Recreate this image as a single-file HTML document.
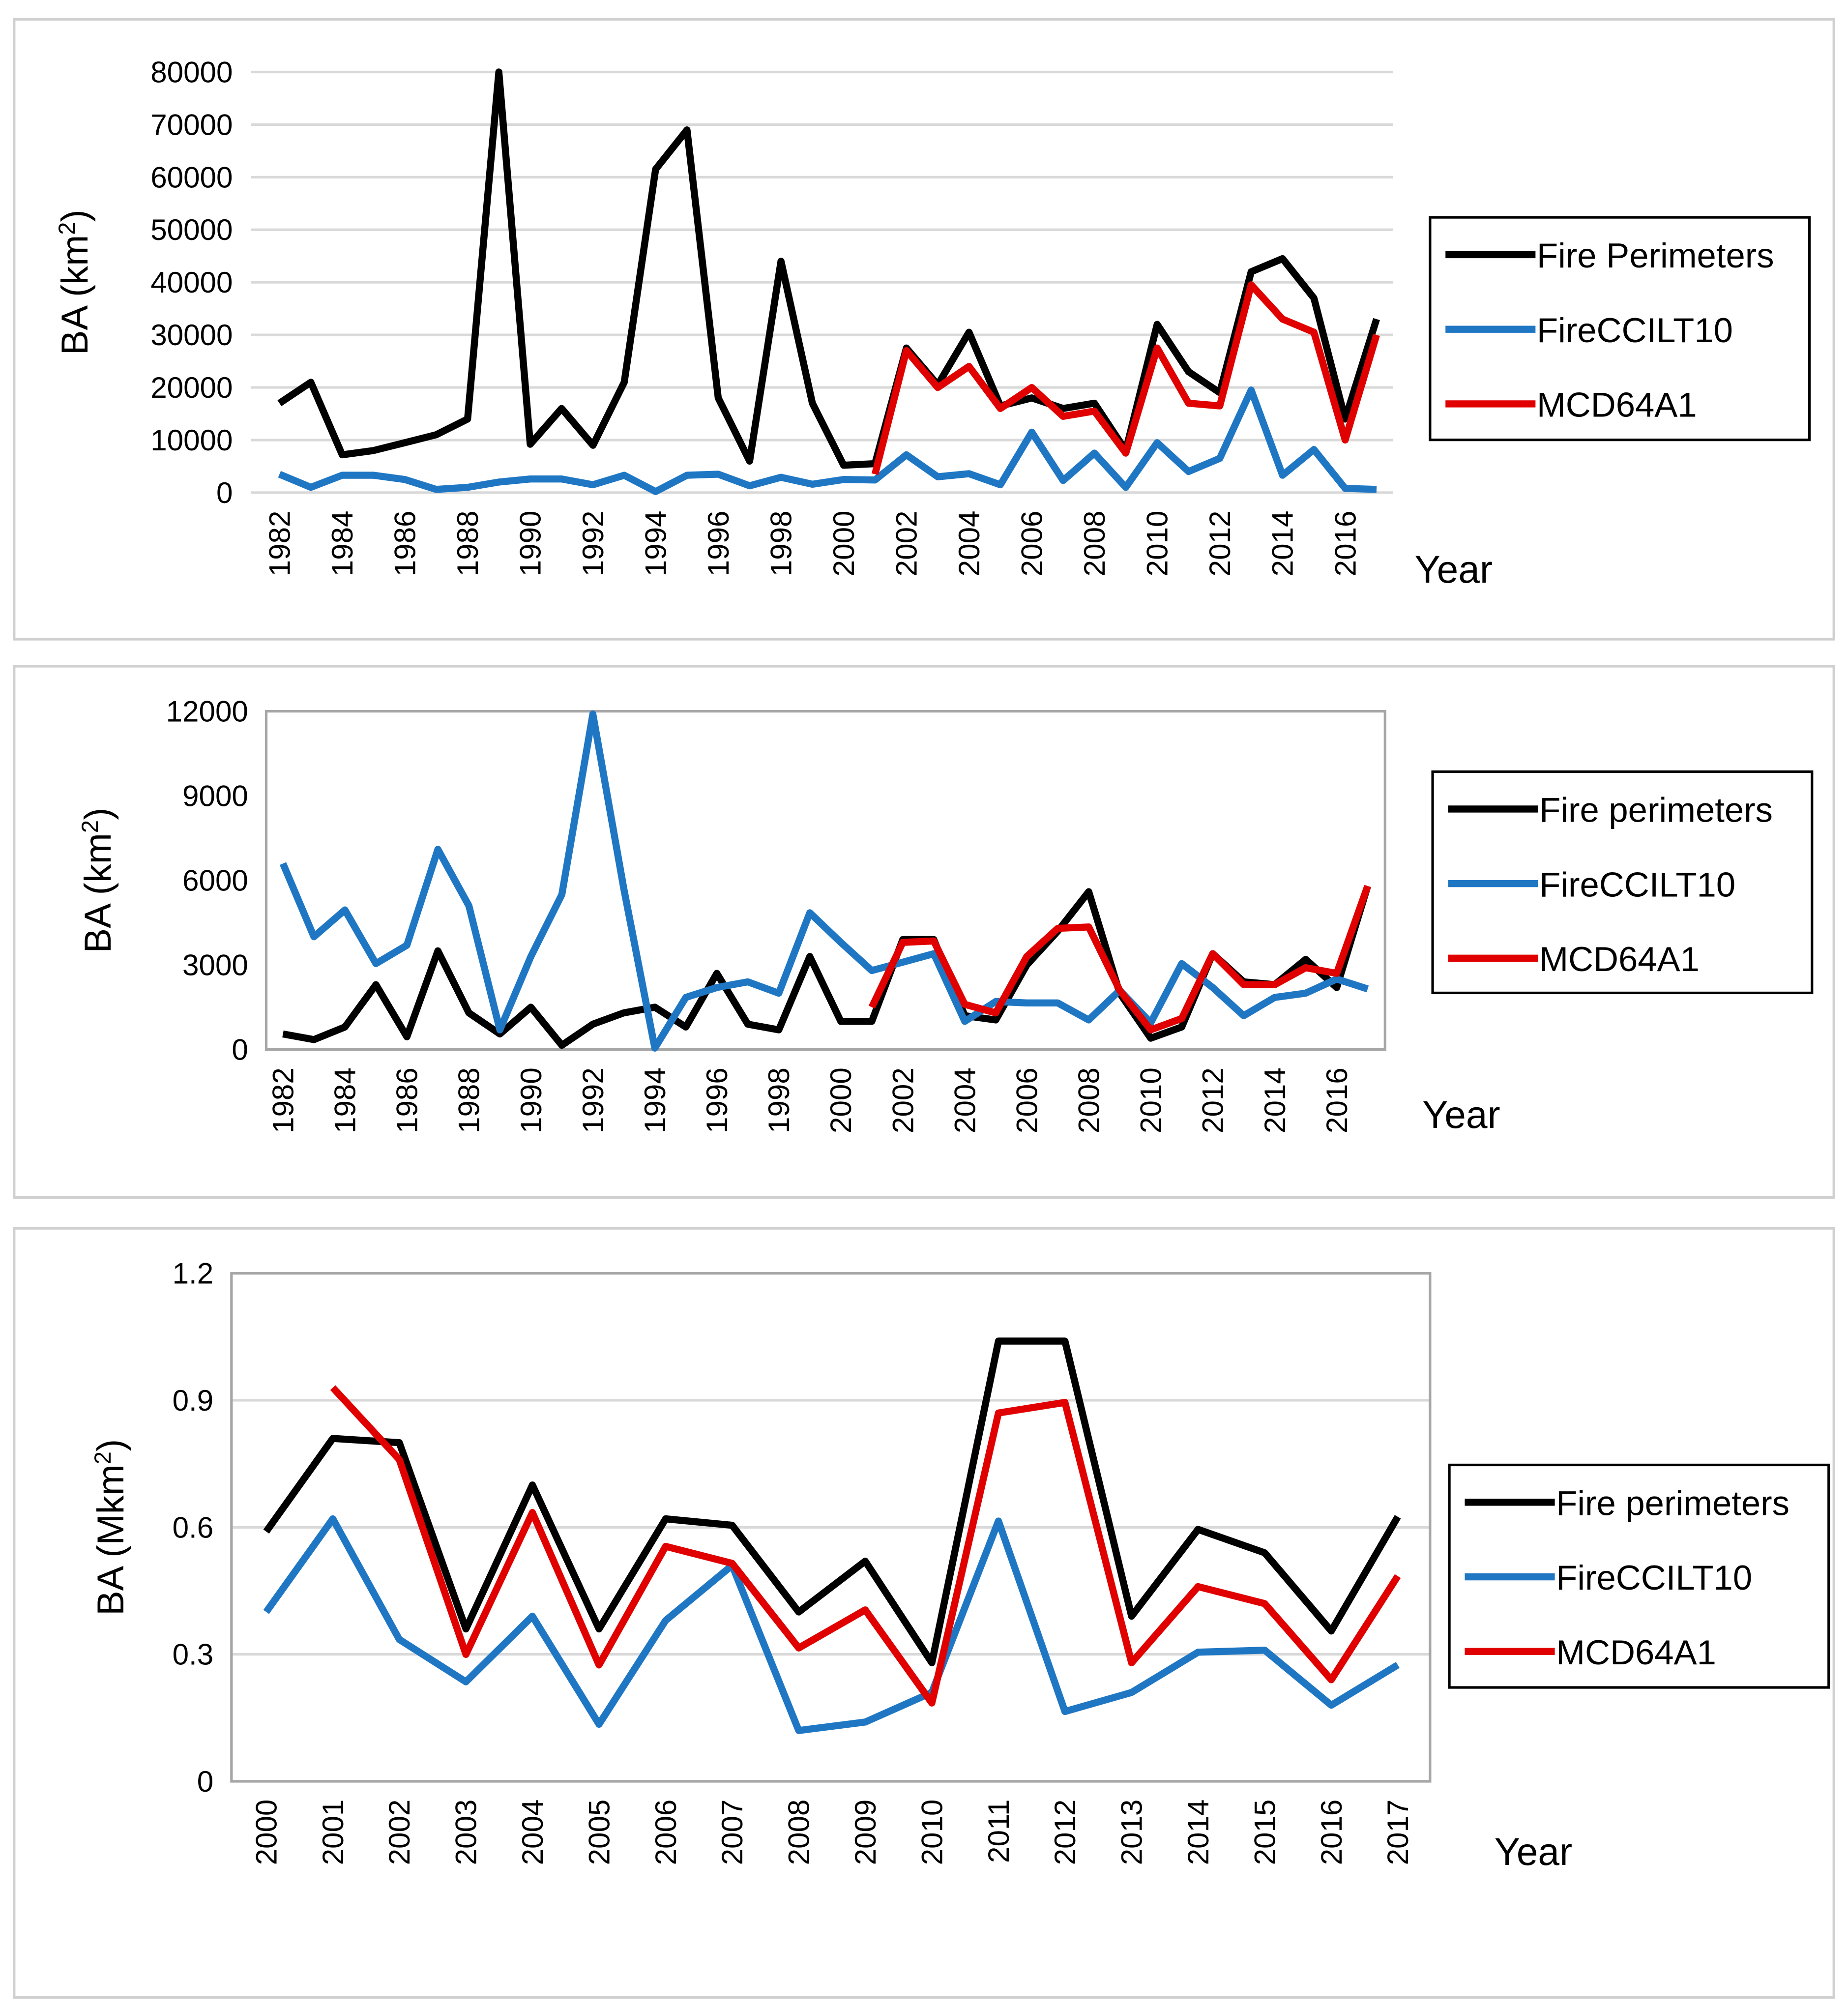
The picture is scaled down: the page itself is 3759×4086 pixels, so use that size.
<!DOCTYPE html>
<html><head><meta charset="utf-8"><style>
html,body{margin:0;padding:0;background:#fff;}
svg{display:block;font-family:"Liberation Sans",sans-serif;}
</style></head><body>
<svg id="chart" width="3759" height="4086" viewBox="0 0 1437 1562" xmlns="http://www.w3.org/2000/svg"></svg>
<script>
// Panel 1 data
const years1 = [1982,1983,1984,1985,1986,1987,1988,1989,1990,1991,1992,1993,1994,1995,1996,1997,1998,1999,2000,2001,2002,2003,2004,2005,2006,2007,2008,2009,2010,2011,2012,2013,2014,2015,2016,2017];
const p1Fire = [17000,21000,7200,8000,9500,11000,14000,80000,9200,16000,9000,21000,61500,69000,18000,6000,44000,17000,5200,5500,27500,20500,30500,16500,18000,16000,17000,8000,32000,23000,19000,42000,44500,37000,14000,33000];
const p1CCI = [3500,1000,3300,3300,2500,600,1000,2000,2600,2600,1500,3300,200,3300,3500,1300,2900,1600,2500,2400,7200,3000,3600,1500,11500,2300,7500,1000,9500,4000,6500,19500,3300,8200,800,600];
const p1MCD = [null,null,null,null,null,null,null,null,null,null,null,null,null,null,null,null,null,null,null,3500,27000,20000,24000,16000,20000,14500,15500,7500,27500,17000,16500,39500,33000,30500,10000,30000];
const p1Ticks = [0,10000,20000,30000,40000,50000,60000,70000,80000];
// Panel 2 data
const p2Fire = [550,350,800,2300,450,3500,1300,550,1500,150,900,1300,1500,800,2700,900,700,3300,1000,1000,3900,3900,1200,1050,3000,4200,5600,2000,400,800,3400,2400,2300,3200,2200,5800];
const p2CCI = [6600,4000,4950,3050,3700,7100,5100,700,3300,5500,11900,5700,50,1850,2200,2400,2000,4850,3800,2800,3100,3400,1000,1700,1650,1650,1050,2100,950,3050,2200,1200,1850,2000,2500,2150];
const p2MCD = [null,null,null,null,null,null,null,null,null,null,null,null,null,null,null,null,null,null,null,1500,3800,3850,1600,1300,3300,4300,4350,2100,700,1100,3400,2300,2300,2900,2700,5800];
const p2Ticks = [0,3000,6000,9000,12000];
// Panel 3 data
const years3 = [2000,2001,2002,2003,2004,2005,2006,2007,2008,2009,2010,2011,2012,2013,2014,2015,2016,2017];
const p3Fire = [0.59,0.81,0.80,0.36,0.70,0.36,0.62,0.605,0.40,0.52,0.28,1.04,1.04,0.39,0.595,0.54,0.355,0.625];
const p3CCI = [0.40,0.62,0.335,0.235,0.39,0.135,0.38,0.51,0.12,0.14,0.21,0.615,0.165,0.21,0.305,0.31,0.18,0.275];
const p3MCD = [null,0.93,0.76,0.30,0.635,0.275,0.555,0.515,0.315,0.405,0.185,0.87,0.895,0.28,0.46,0.42,0.24,0.485];
const p3Ticks = [0,0.3,0.6,0.9,1.2];
const p3TickLabels = ["0","0.3","0.6","0.9","1.2"];

const NS="http://www.w3.org/2000/svg";
const svg=document.getElementById('chart');
const BLACK="#000",BLUE="#1f77c4",RED="#e00000";
function mk(tag,attrs,parent){const e=document.createElementNS(NS,tag);for(const k in attrs)e.setAttribute(k,attrs[k]);(parent||svg).appendChild(e);return e;}

function panel(cfg){
  const g=mk('g',{});
  
  
  const fr=mk('rect',{x:cfg.box[0],y:cfg.box[1],width:cfg.box[2]-cfg.box[0],height:cfg.box[3]-cfg.box[1],fill:'#fff',stroke:'#d0d0d0','stroke-width':2},g);
  
  
  const [x0,x1]=cfg.xr,[y0,y1]=cfg.yr;
  const xs=i=>cfg.xFirst+i*cfg.xStep;
  const ys=v=>y0-(v-cfg.tmin)/(cfg.tmax-cfg.tmin)*(y0-y1);
  cfg.ticks.forEach((t,i)=>{
    const y=ys(t);
    if(cfg.grid && t!==cfg.tmin){const l=mk('line',{x1:x0,x2:x1,y1:y,y2:y,stroke:'#d9d9d9','stroke-width':2},g);
      }
    const tx=mk('text',{x:x0-14,y:y+8,'text-anchor':'end','font-size':23},g);
    tx.textContent=cfg.tickLabels?cfg.tickLabels[i]:String(t);
    
  });
  if(cfg.border){const b=mk('rect',{x:x0,y:y1,width:x1-x0,height:y0-y1,fill:'none',stroke:'#a6a6a6','stroke-width':2},g);
    }
  else{const b=mk('line',{x1:x0,x2:x1,y1:y0,y2:y0,stroke:'#d9d9d9','stroke-width':2},g);
    }
  cfg.years.forEach((yr,i)=>{
    if(i%cfg.labelEvery) return;
    const x=xs(i);
    const tx=mk('text',{x:0,y:0,'text-anchor':'end','font-size':23,transform:`translate(${x+8},${y0+14}) rotate(-90)`},g);
    tx.textContent=yr;
    
  });
  const yt=mk('text',{x:0,y:0,'text-anchor':'middle','font-size':29,transform:`translate(${cfg.ytX},${(y0+y1)/2}) rotate(-90)`},g);
  yt.innerHTML=cfg.ytitle;
  
  const xt=mk('text',{x:cfg.yearPos[0],y:cfg.yearPos[1],'font-size':30},g);
  xt.textContent='Year';
  
  cfg.series.forEach(s=>{
    let d='',pen=false;
    s.data.forEach((v,i)=>{if(v===null){pen=false;return;}d+=(pen?'L':'M')+xs(i).toFixed(1)+' '+ys(v).toFixed(1);pen=true;});
    const p=mk('path',{d:d,fill:'none',stroke:s.color,'stroke-width':5.5,'stroke-linejoin':'round'},g);
    
  });
  const L=cfg.legend;
  const lb=mk('rect',{x:L[0],y:L[1],width:L[2]-L[0],height:L[3]-L[1],fill:'#fff',stroke:'#000','stroke-width':2},g);
  
  cfg.series.forEach((s,k)=>{
    const cy=L[1]+29+k*58;
    const ln=mk('line',{x1:L[0]+12,x2:L[0]+82,y1:cy,y2:cy,stroke:s.color,'stroke-width':5.5},g);
    
    const t=mk('text',{x:L[0]+83,y:cy+10,'font-size':27},g);
    t.textContent=s.label;
    
  });
}

panel({name:'panel-1',box:[11,15,1426,497],xr:[195,1083],yr:[383,56],tmin:0,tmax:80000,ticks:p1Ticks,grid:true,border:false,
  years:years1,xFirst:217.3,xStep:24.375,labelEvery:2,ytX:68,ytitle:'BA (km<tspan baseline-shift="super" font-size="18">2</tspan>)',
  yearPos:[1100,453],legend:[1112,169,1407,342],
  series:[{data:p1Fire,color:BLACK,label:'Fire Perimeters'},{data:p1CCI,color:BLUE,label:'FireCCILT10'},{data:p1MCD,color:RED,label:'MCD64A1'}]});
panel({name:'panel-2',box:[11,518,1426,931],xr:[207,1077],yr:[816,553],tmin:0,tmax:12000,ticks:p2Ticks,grid:false,border:true,
  years:years1,xFirst:220,xStep:24.1,labelEvery:2,ytX:86,ytitle:'BA (km<tspan baseline-shift="super" font-size="18">2</tspan>)',
  yearPos:[1106,877],legend:[1114,600,1409,772],
  series:[{data:p2Fire,color:BLACK,label:'Fire perimeters'},{data:p2CCI,color:BLUE,label:'FireCCILT10'},{data:p2MCD,color:RED,label:'MCD64A1'}]});
panel({name:'panel-3',box:[11,955,1426,1553],xr:[180,1112],yr:[1385,990],tmin:0,tmax:1.2,ticks:p3Ticks,tickLabels:p3TickLabels,grid:true,border:true,
  years:years3,xFirst:207,xStep:51.76,labelEvery:1,ytX:96,ytitle:'BA (Mkm<tspan baseline-shift="super" font-size="18">2</tspan>)',
  yearPos:[1162,1450],legend:[1127,1139,1422,1312],
  series:[{data:p3Fire,color:BLACK,label:'Fire perimeters'},{data:p3CCI,color:BLUE,label:'FireCCILT10'},{data:p3MCD,color:RED,label:'MCD64A1'}]});
</script>
</body></html>
